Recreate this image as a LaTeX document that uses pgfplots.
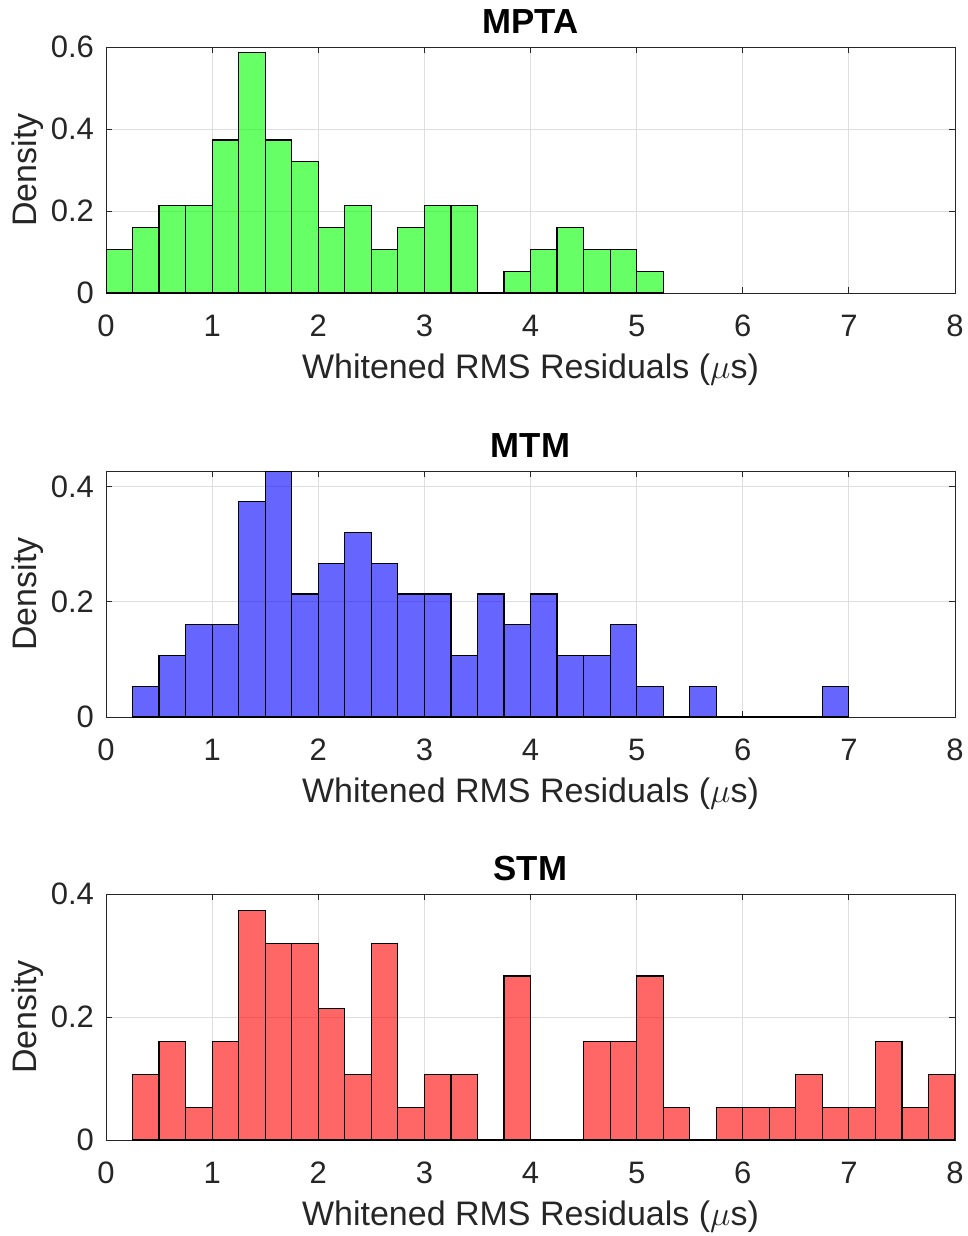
\documentclass[border=0pt]{standalone}
\usepackage{pgfplots}
\pgfplotsset{compat=1.18}
\usepackage{fontspec}
\setmainfont{Liberation Sans}
\definecolor{mgray}{rgb}{0.15,0.15,0.15}
\definecolor{gridc}{rgb}{0.87,0.87,0.87}
\pgfplotsset{
  every axis title shift=0pt,
  mstyle/.style={
    scale only axis,
    width=424.5pt, height=123pt,
    xmin=0, xmax=8, ymin=0,
    xtick={0,1,...,8},
    axis line style={mgray, line width=0.5pt},
    tick style={mgray, line width=0.5pt},
    tick align=inside,
    major tick length=3pt,
    xtick pos=both, ytick pos=both,
    xticklabel pos=lower, yticklabel pos=left,
    grid=major,
    major grid style={gridc, line width=0.5pt},
    ticklabel style={font=\fontsize{15.5}{18}\selectfont, text=mgray},
    xticklabel style={yshift=-7.5pt},
    yticklabel style={xshift=-2.5pt},
    /pgf/number format/assume math mode=true,
    xlabel={Whitened RMS Residuals ($\mu$s)},
    ylabel={Density},
    label style={font=\fontsize{17}{20}\selectfont, text=mgray},
    xlabel style={at={(axis description cs:0.5,-0.313)}, anchor=center},
    ylabel style={at={(axis description cs:-0.0919,0.5)}, anchor=center},
    title style={font=\bfseries\fontsize{17.4}{20}\selectfont, at={(axis description cs:0.5,1.102)}, anchor=center},
  },
  hist/.style={ybar interval, draw=black, line width=0.6pt, fill=#1, fill opacity=0.6, draw opacity=1},
}
\pgfplotstableread{
x y
0    0.10667
0.25 0.16
0.5  0.21333
0.75 0.21333
1    0.37333
1.25 0.58667
1.5  0.37333
1.75 0.32
2    0.16
2.25 0.21333
2.5  0.10667
2.75 0.16
3    0.21333
3.25 0.21333
3.5  0
3.75 0.05333
4    0.10667
4.25 0.16
4.5  0.10667
4.75 0.10667
5    0.05333
5.25 0
}\mpta
\pgfplotstableread{
x y
0.25 0.05333
0.5  0.10667
0.75 0.16
1    0.16
1.25 0.37333
1.5  0.42667
1.75 0.21333
2    0.26667
2.25 0.32
2.5  0.26667
2.75 0.21333
3    0.21333
3.25 0.10667
3.5  0.21333
3.75 0.16
4    0.21333
4.25 0.10667
4.5  0.10667
4.75 0.16
5    0.05333
5.25 0
5.5  0.05333
5.75 0
6    0
6.25 0
6.5  0
6.75 0.05333
7    0
}\mtm
\pgfplotstableread{
x y
0.25 0.10667
0.5  0.16
0.75 0.05333
1    0.16
1.25 0.37333
1.5  0.32
1.75 0.32
2    0.21333
2.25 0.10667
2.5  0.32
2.75 0.05333
3    0.10667
3.25 0.10667
3.5  0
3.75 0.26667
4    0
4.25 0
4.5  0.16
4.75 0.16
5    0.26667
5.25 0.05333
5.5  0
5.75 0.05333
6    0.05333
6.25 0.05333
6.5  0.10667
6.75 0.05333
7    0.05333
7.25 0.16
7.5  0.05333
7.75 0.10667
8    0
}\stm
\begin{document}
\begin{tikzpicture}
\useasboundingbox (0pt,0pt) rectangle (484pt,-618pt);
\begin{axis}[mstyle, at={(53pt,-146.5pt)}, anchor=south west,
  ymax=0.6, ytick={0,0.2,0.4,0.6}, title={MPTA}]
\addplot[hist=green] table[x=x,y=y] {\mpta};
\end{axis}
\begin{axis}[mstyle, at={(53pt,-358.5pt)}, anchor=south west,
  ymax=0.42667, ytick={0,0.2,0.4}, title={MTM}]
\addplot[hist=blue] table[x=x,y=y] {\mtm};
\end{axis}
\begin{axis}[mstyle, at={(53pt,-570pt)}, anchor=south west,
  ymax=0.4, ytick={0,0.2,0.4}, title={STM}]
\addplot[hist=red] table[x=x,y=y] {\stm};
\end{axis}
\end{tikzpicture}
\end{document}
